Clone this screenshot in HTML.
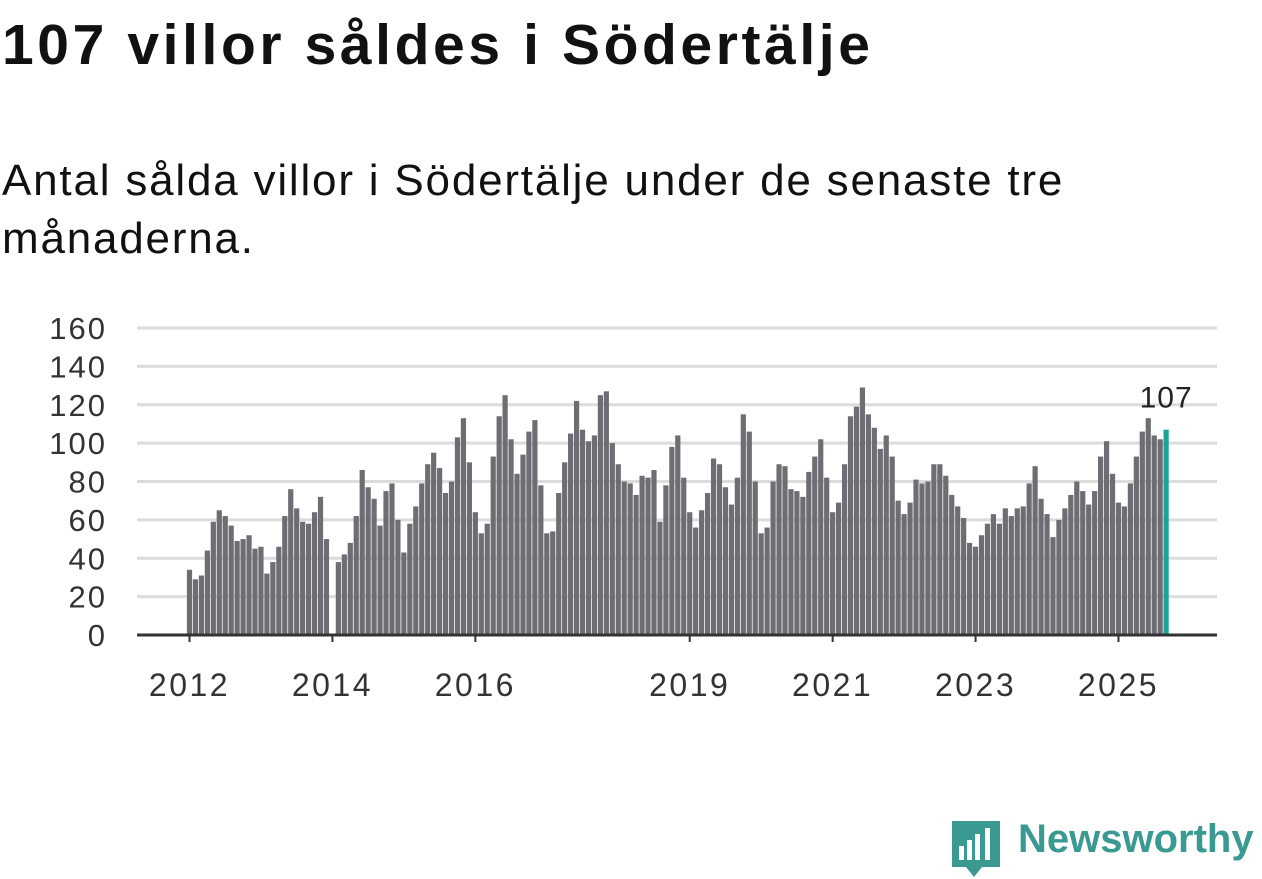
<!DOCTYPE html>
<html><head><meta charset="utf-8">
<style>
body{margin:0;width:1262px;height:879px;background:#fff;font-family:"Liberation Sans",sans-serif;overflow:hidden;position:relative}
h1{position:absolute;left:2px;top:12px;margin:0;font-size:57px;font-weight:bold;color:#111;letter-spacing:3.6px}
.sub{position:absolute;left:2px;top:152px;margin:0;font-size:44px;line-height:58px;color:#111;letter-spacing:1.8px;white-space:nowrap}
svg{position:absolute;left:0;top:0}
.logo{position:absolute;left:1018px;top:817px;font-size:40px;font-weight:bold;color:#3a9a92}
</style></head><body>
<h1>107 villor såldes i Södertälje</h1>
<p class="sub">Antal sålda villor i Södertälje under de senaste tre<br>månaderna.</p>
<svg id="chart" width="1262" height="879"></svg>
<svg width="1262" height="879">
<path d="M952 821 h48 v46 h-18 l-8 10 l-8 -10 h-14 z" fill="#3a9a92"/>
<rect x="959" y="846" width="5" height="14" fill="#fff"/><rect x="967" y="840" width="5" height="20" fill="#fff"/><rect x="975" y="834" width="5" height="26" fill="#fff"/><rect x="985" y="828" width="5" height="32" fill="#fff"/>
</svg>
<div class="logo">Newsworthy</div>
<script>
const values=[34,29,31,44,59,65,62,57,49,50,52,45,
46,32,38,46,62,76,66,59,58,64,72,50,
null,38,42,48,62,86,77,71,57,75,79,60,
43,58,67,79,89,95,87,74,80,103,113,90,
64,53,58,93,114,125,102,84,94,106,112,78,
53,54,74,90,105,122,107,101,104,125,127,100,
89,80,79,73,83,82,86,59,78,98,104,82,
64,56,65,74,92,89,77,68,82,115,106,80,
53,56,80,89,88,76,75,72,85,93,102,82,
64,69,89,114,119,129,115,108,97,104,93,70,
63,69,81,79,80,89,89,83,73,67,61,48,
46,52,58,63,58,66,62,66,67,79,88,71,
63,51,60,66,73,80,75,68,75,93,101,84,
69,67,79,93,106,113,104,102,107];
const yTicks=[0,20,40,60,80,100,120,140,160];
const xTickLabels=["2012","2014","2016","2019","2021","2023","2025"];
const xTickYears=[2012,2014,2016,2019,2021,2023,2025];
const NS="http://www.w3.org/2000/svg";
const svg=document.getElementById('chart');
const y=v=>635-v*(307/160);
const x=i=>189.5+i*5.955;
function mk(t,a){const e=document.createElementNS(NS,t);for(const k in a)e.setAttribute(k,a[k]);svg.appendChild(e);return e;}
yTicks.forEach(t=>{
  if(t>0){const g=mk('line',{x1:137,x2:1217,y1:y(t),y2:y(t),stroke:'#dcdcdc','stroke-width':3});
  
  }
  const l=mk('text',{x:107,y:y(t)+11,'text-anchor':'end','font-size':31,'letter-spacing':2,fill:'#333'});l.textContent=t;
  
  
});
values.forEach((v,i)=>{
  if(v==null)return;
  const last=i===values.length-1;
  const r=mk('rect',{x:x(i)-2.6,y:y(v),width:5.2,height:635-y(v),fill:last?'#1aa39a':'#6e6d73'});
  
  
  if(last){const t=mk('text',{x:x(i),y:y(v)-22,'text-anchor':'middle','font-size':30,'letter-spacing':1,fill:'#222'});t.textContent=v;
  
  }
});
const ax=mk('line',{x1:137,x2:1217,y1:635,y2:635,stroke:'#333','stroke-width':3});


xTickYears.forEach((yr,k)=>{
  const xi=x((yr-2012)*12);
  const tk=mk('line',{x1:xi,x2:xi,y1:635,y2:642,stroke:'#333','stroke-width':2});
  
  
  const l=mk('text',{x:xi,y:696,'text-anchor':'middle','font-size':32,'letter-spacing':2.5,fill:'#333'});l.textContent=xTickLabels[k];
  
  
});
</script>
</body></html>
